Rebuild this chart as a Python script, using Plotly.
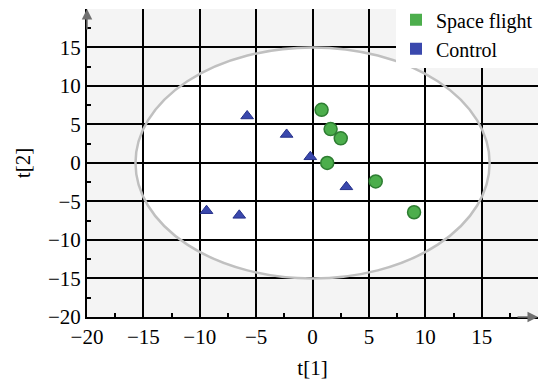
import plotly.graph_objects as go

# Data
sf_x = [0.8, 1.6, 2.5, 1.3, 5.6, 9.0]
sf_y = [6.9, 4.4, 3.2, 0.0, -2.4, -6.4]
ct_x = [-5.8, -2.3, -0.2, 3.0, -9.4, -6.5]
ct_y = [6.1, 3.7, 0.8, -3.1, -6.2, -6.8]
ellipse_a = 15.7
ellipse_b = 15.0

GREEN = "#4cae4c"
GREEN_D = "#2e7d32"
BLUE = "#3a48ad"
BLUE_D = "#26318a"
FONT = "Liberation Serif"

fig = go.Figure()
fig.add_trace(go.Scatter(x=sf_x, y=sf_y, mode="markers", showlegend=False,
                         marker=dict(symbol="circle", size=13, color=GREEN,
                                     line=dict(color=GREEN_D, width=1.5))))
fig.add_trace(go.Scatter(x=ct_x, y=ct_y, mode="markers", showlegend=False,
                         marker=dict(symbol="triangle-up", size=11, color=BLUE,
                                     line=dict(color=BLUE_D, width=1))))
# legend proxies
fig.add_trace(go.Scatter(x=[None], y=[None], mode="markers", name="Space flight",
                         marker=dict(symbol="square", size=14, color=GREEN)))
fig.add_trace(go.Scatter(x=[None], y=[None], mode="markers", name="Control",
                         marker=dict(symbol="square", size=14, color=BLUE)))

fig.add_shape(type="circle", xref="x", yref="y",
              x0=-ellipse_a, x1=ellipse_a, y0=-ellipse_b, y1=ellipse_b,
              fillcolor="white", line=dict(width=0), layer="below")
fig.add_shape(type="circle", xref="x", yref="y",
              x0=-ellipse_a, x1=ellipse_a, y0=-ellipse_b, y1=ellipse_b,
              fillcolor="rgba(0,0,0,0)", line=dict(color="#c0c0c0", width=2.5), layer="above")

axis_common = dict(
    range=[-20, 19.99], tick0=-20, dtick=5,
    showgrid=True, gridcolor="black", gridwidth=2,
    zeroline=False, showline=True, linecolor="black", linewidth=2,
    ticks="", tickfont=dict(family=FONT, size=21, color="black"),
    minor=dict(ticks="inside", ticklen=4, tickwidth=2, tickcolor="black",
               tick0=-17.5, dtick=2.5, showgrid=False),
    fixedrange=True,
)
fig.update_xaxes(**axis_common)
fig.update_yaxes(**axis_common)
fig.update_xaxes(title=dict(text="t[1]", font=dict(family=FONT, size=21, color="black"), standoff=12))
fig.update_yaxes(title=dict(text="t[2]", font=dict(family=FONT, size=21, color="black"), standoff=12))

# axis arrows
fig.add_annotation(xref="paper", yref="paper", x=0, y=1, ax=0, ay=22, axref="pixel", ayref="pixel",
                   showarrow=True, arrowhead=2, arrowsize=1.4, arrowwidth=1.5, arrowcolor="#707070", text="")
fig.add_annotation(xref="paper", yref="paper", x=1, y=0, ax=-22, ay=0, axref="pixel", ayref="pixel",
                   showarrow=True, arrowhead=2, arrowsize=1.4, arrowwidth=1.5, arrowcolor="#707070", text="")

fig.update_layout(
    width=539, height=385,
    margin=dict(l=87, r=1, t=8, b=68),
    plot_bgcolor="#f4f4f4", paper_bgcolor="white",
    font=dict(family=FONT, size=21, color="black"),
    legend=dict(x=1, y=1.025, xanchor="right", yanchor="top", bgcolor="white",
                font=dict(family=FONT, size=20, color="black"),
                itemwidth=30, tracegroupgap=0, borderwidth=0, itemsizing="constant"),
)

fig.write_html("out.html")
